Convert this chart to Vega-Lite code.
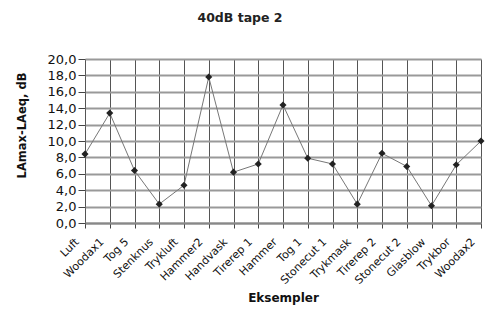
{
  "$schema": "https://vega.github.io/schema/vega-lite/v6.json",
  "autosize": "none",
  "width": 396,
  "height": 164,
  "padding": {"left": 85, "top": 59, "right": 9, "bottom": 87},
  "background": "white",
  "title": {"text": "40dB tape 2", "font": "DejaVu Sans", "fontSize": 12.5, "fontWeight": "bold", "color": "#222", "dx": -43, "offset": 29},
  "config": {
    "view": {"stroke": null},
    "axis": {"labelFont": "DejaVu Sans", "titleFont": "DejaVu Sans", "labelColor": "#111", "titleColor": "#111", "labelFontSize": 11, "titleFontSize": 12, "titleFontWeight": "bold"}
  },
  "data": {"values": [
    {"name": "Luft", "v": 8.4},
    {"name": "Woodax1", "v": 13.4},
    {"name": "Tog 5", "v": 6.4},
    {"name": "Stenknus", "v": 2.3},
    {"name": "Trykluft", "v": 4.6},
    {"name": "Hammer2", "v": 17.8},
    {"name": "Handvask", "v": 6.2},
    {"name": "Tirerep 1", "v": 7.2},
    {"name": "Hammer", "v": 14.4},
    {"name": "Tog 1", "v": 7.9},
    {"name": "Stonecut 1", "v": 7.2},
    {"name": "Trykmask", "v": 2.3},
    {"name": "Tirerep 2", "v": 8.5},
    {"name": "Stonecut 2", "v": 6.9},
    {"name": "Glasblow", "v": 2.1},
    {"name": "Trykbor", "v": 7.1},
    {"name": "Woodax2", "v": 10.0}
  ]},
  "encoding": {
    "x": {"field": "name", "type": "nominal", "sort": null,
      "scale": {"type": "point", "padding": 0},
      "axis": {"title": "Eksempler", "labelAngle": -45, "labelAlign": "right", "labelBaseline": "middle", "labelPadding": 12, "labelOffset": -8,
        "grid": true, "gridColor": "#555", "gridWidth": 1, "domainColor": "#888", "domainWidth": 2, "tickColor": "#444", "tickSize": 5, "titlePadding": 7}},
    "y": {"field": "v", "type": "quantitative",
      "scale": {"domain": [0, 20], "nice": false, "zero": true},
      "axis": {"title": "LAmax-LAeq, dB", "values": [0,2,4,6,8,10,12,14,16,18,20],
        "labelExpr": "replace(format(datum.value, '.1f'), '.', ',')",
        "labelFontSize": 13, "titleFontSize": 11.5,
        "grid": true, "gridColor": "#999", "gridWidth": 2, "domain": false, "tickColor": "#444", "tickSize": 7, "labelPadding": 2,
        "titleX": -63, "titleY": 66, "titleAlign": "center", "titleBaseline": "middle"}}
  },
  "layer": [
    {"mark": {"type": "line", "color": "#777", "strokeWidth": 1}},
    {"mark": {"type": "point", "shape": "diamond", "filled": true, "color": "#222", "size": 50, "opacity": 1}}
  ]
}
